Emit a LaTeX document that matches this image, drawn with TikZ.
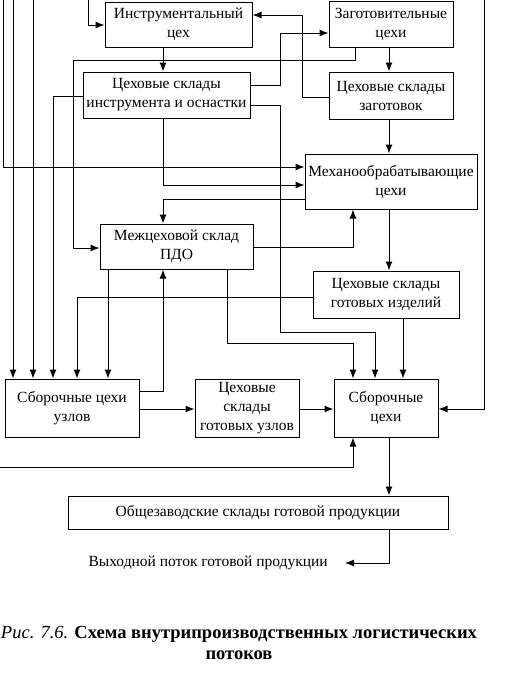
\documentclass[tikz,border=0pt]{standalone}
\usepackage{fontspec}
\setmainfont{Liberation Serif}
\usetikzlibrary{arrows.meta,calc,positioning}
\tikzstyle{box} = [draw,line width=1pt,align=center,inner sep=0pt,font=\fontsize{15.5}{19}\selectfont]
\tikzstyle{line>} = [line width=1pt,-{Latex[length=9pt, width=7pt]}]
\tikzstyle{flow label} = [font=\fontsize{15.5}{19}\selectfont]

\begin{document}
\begin{tikzpicture}[x=1pt,y=-1pt]
        \useasboundingbox (0,0) rectangle (521,697);
        % draw boxes
        \node[box,minimum width=147pt,minimum height=45pt] (instr) at (178.5,24.5) {Инструментальный\\цех};
        \node[box,minimum width=124pt,minimum height=46pt] (zag) at (391,24) {Заготовительные\\цехи};
        \node[box,minimum width=167pt,minimum height=46pt] (skin) at (166.5,95) {Цеховые склады\\инструмента и оснастки};
        \node[box,minimum width=124pt,minimum height=47pt] (skzag) at (391,95.5) {Цеховые склады\\заготовок};
        \node[box,minimum width=172pt,minimum height=55pt] (mech) at (391,181.5) {Механообрабатывающие\\цехи};
        \node[box,minimum width=153pt,minimum height=45pt] (pdo) at (176.5,246.5) {Межцеховой склад\\ПДО};
        \node[box,minimum width=146pt,minimum height=47pt] (skgi) at (386,294.5) {Цеховые склады\\готовых изделий};
        \node[box,minimum width=134pt,minimum height=58pt] (sbu) at (72,408) {Сборочные цехи\\узлов};
        \node[box,minimum width=104pt,minimum height=58pt] (skgu) at (247,408) {Цеховые\\склады\\готовых узлов};
        \node[box,minimum width=104pt,minimum height=58pt] (sb) at (386,408) {Сборочные\\цехи};
        \node[box,minimum width=380pt,minimum height=33pt] (obsh) at (258,512.5) {Общезаводские склады готовой продукции};
        \node[flow label,anchor=east,inner xsep=17pt] (out) at (345,563) {Выходной поток готовой продукции};
        % caption
        \node[align=center,font=\fontsize{18.5}{20.5}\selectfont] (cap) at (239,643)
            {\textit{Рис. 7.6.} \textbf{Схема внутрипроизводственных логистических}\\\textbf{потоков}};

        % inputs from above and from the left
        \coordinate (in1) at (3,0);
        \coordinate (in2) at (13,0);
        \coordinate (in3) at (33,0);
        \coordinate (in4) at (88,0);
        \coordinate (in5) at (484,0);
        \coordinate (in6) at (0,467);

        % draw flows
        \draw[line>] (in4) |- (instr.west |- 0,25);
        \draw[line>] (skzag.west |- 0,97) -| (302,15) -- (instr.east |- 0,15);
        \draw[line>] (instr.south -| 163,0) -- (skin.north -| 163,0);
        \draw[line>] (zag.south -| 355,0) |- (73,60) |- (pdo.west |- 0,248);
        \draw[line>] (zag.south -| 389,0) -- (skzag.north -| 389,0);
        \draw[line>] (skin.west |- 0,96) -| (sbu.north -| 53,0);
        \draw[line>] (skin.east |- 0,85) -| (280,33) -- (zag.west |- 0,33);
        \draw[line>] (skin.east |- 0,105) -| (280,332) -| (sb.north -| 375,0);
        \draw[line>] (in1) |- (mech.west |- 0,167);
        \draw[line>] (skin.south -| 163,0) |- (mech.west |- 0,185);
        \draw[line>] (skzag.south -| 389,0) -- (mech.north -| 389,0);
        \draw[line>] (mech.west |- 0,199) -| (pdo.north -| 163,0);
        \draw[line>] (pdo.east |- 0,247) -| (mech.south -| 353,0);
        \draw[line>] (mech.south -| 389,0) -- (skgi.north -| 389,0);
        \draw[line>] (pdo.south -| 108,0) -- (sbu.north -| 108,0);
        \draw[line>] (pdo.south -| 227,0) |- (353,343) -- (sb.north -| 353,0);
        \draw[line>] (skgi.west |- 0,297) -| (sbu.north -| 77,0);
        \draw[line>] (skgi.south -| 403,0) -- (sb.north -| 403,0);
        \draw[line>] (in2) -- (sbu.north -| in2);
        \draw[line>] (in3) -- (sbu.north -| in3);
        \draw[line>] (sbu.east |- 0,391) -| (pdo.south -| 163,0);
        \draw[line>] (sbu.east |- 0,409) -- (skgu.west |- 0,409);
        \draw[line>] (skgu.east |- 0,409) -- (sb.west |- 0,409);
        \draw[line>] (in5) |- (sb.east |- 0,409);
        \draw[line>] (in6) -| (sb.south -| 353,0);
        \draw[line>] (sb.south -| 389,0) -- (obsh.north -| 389,0);
        \draw[line>] (obsh.south -| 389,0) |- (out.east);
\end{tikzpicture}
\end{document}
